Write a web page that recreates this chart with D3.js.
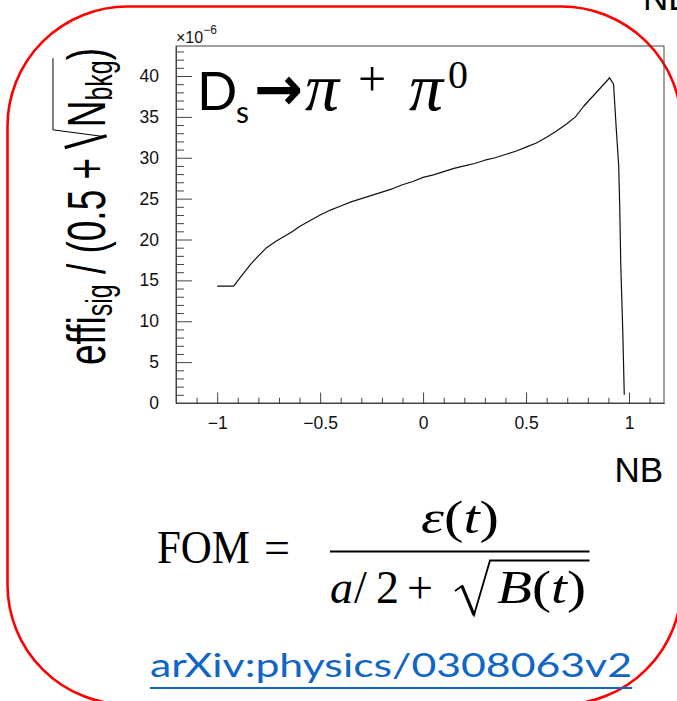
<!DOCTYPE html>
<html>
<head>
<meta charset="utf-8">
<script src="https://cdn.jsdelivr.net/npm/d3@7"></script>
<style>
  html, body { margin: 0; padding: 0; background: #fff; }
  svg { display: block; }
  text { white-space: pre; }
</style>
</head>
<body>
<svg id="chart" width="677" height="701"></svg>
<script>
// Cut on the neural-network output (NB) and the figure of merit at that cut (×1e-6)
const nbCut = [-1.00, -0.92, -0.88, -0.84, -0.80, -0.76, -0.72, -0.68, -0.64, -0.60,
               -0.55, -0.50, -0.45, -0.40, -0.35, -0.30, -0.25, -0.20, -0.15, -0.10,
               -0.05, 0.00, 0.05, 0.10, 0.15, 0.20, 0.25, 0.30, 0.35, 0.40,
               0.45, 0.50, 0.55, 0.60, 0.65, 0.70, 0.74, 0.78, 0.82, 0.86,
               0.90, 0.905, 0.925, 0.937, 0.95, 0.955, 0.96, 0.97, 0.977];
const fomValue = [14.3, 14.3, 15.6, 16.9, 18.0, 19.0, 19.7, 20.3, 20.9, 21.6,
                  22.3, 23.0, 23.6, 24.1, 24.6, 25.0, 25.4, 25.8, 26.2, 26.7,
                  27.1, 27.6, 27.9, 28.3, 28.7, 29.0, 29.3, 29.7, 30.0, 30.4,
                  30.8, 31.3, 31.8, 32.5, 33.3, 34.2, 35.0, 36.3, 37.4, 38.5,
                  39.6, 39.8, 39.0, 34.0, 29.0, 24.0, 17.0, 8.5, 1.0];

const xMajorTicks = [-1, -0.5, 0, 0.5, 1];
const xTickLabels = ["\u22121", "\u22120.5", "0", "0.5", "1"];
const xMinorTicks = [-1.1, -0.9, -0.8, -0.7, -0.6, -0.4, -0.3, -0.2, -0.1,
                     0.1, 0.2, 0.3, 0.4, 0.6, 0.7, 0.8, 0.9, 1.1];
const yMajorTicks = [0, 5, 10, 15, 20, 25, 30, 35, 40];
const yTickLabels = ["0", "5", "10", "15", "20", "25", "30", "35", "40"];
const yMinorTicks = d3.range(1, 44).filter(v => v % 5 !== 0);

const xDomain = [-1.2, 1.17];
const yDomain = [0, 43.67];

const svg = d3.select("#chart");
const frame = { left: 176, right: 664, top: 46, bottom: 403 };
const sans = "'Liberation Sans', Arial, Helvetica, sans-serif";
const serif = "'Liberation Serif', 'Times New Roman', serif";
const slideFont = "Lato, 'Open Sans', sans-serif";

const x = d3.scaleLinear().domain(xDomain).range([frame.left, frame.right]);
const y = d3.scaleLinear().domain(yDomain).range([frame.bottom, frame.top]);

// Rounded red box around the plot and formula (right and bottom sides run off the page)
svg.append("rect")
  .attr("x", 7.5).attr("y", 6.5)
  .attr("width", 674).attr("height", 698)
  .attr("rx", 120).attr("ry", 120)
  .attr("fill", "none")
  .attr("stroke", "#ff0000")
  .attr("stroke-width", 2.6);

// Neighbouring panel's axis label peeking in at the top edge
svg.append("text")
  .attr("x", 643).attr("y", 10)
  .attr("font-family", sans).attr("font-size", 35)
  .attr("fill", "#000")
  .text("NB");

// Frame
svg.append("rect")
  .attr("x", frame.left).attr("y", frame.top)
  .attr("width", frame.right - frame.left).attr("height", frame.bottom - frame.top)
  .attr("fill", "none").attr("stroke", "#444").attr("stroke-width", 1);

// X axis: major ticks with labels, minor ticks
svg.append("g")
  .attr("transform", `translate(0,${frame.bottom})`)
  .call(d3.axisBottom(x).tickValues(xMajorTicks)
        .tickFormat((d, i) => xTickLabels[i])
        .tickSize(-10.5).tickSizeOuter(0).tickPadding(14));
svg.append("g")
  .attr("transform", `translate(0,${frame.bottom})`)
  .call(d3.axisBottom(x).tickValues(xMinorTicks).tickFormat("")
        .tickSize(-5.3).tickSizeOuter(0));

// Y axis
svg.append("g")
  .attr("transform", `translate(${frame.left},0)`)
  .call(d3.axisLeft(y).tickValues(yMajorTicks)
        .tickFormat((d, i) => yTickLabels[i])
        .tickSize(-16).tickSizeOuter(0).tickPadding(17));
svg.append("g")
  .attr("transform", `translate(${frame.left},0)`)
  .call(d3.axisLeft(y).tickValues(yMinorTicks).tickFormat("")
        .tickSize(-8).tickSizeOuter(0));

svg.selectAll(".domain").attr("stroke", "#444");
svg.selectAll(".tick line").attr("stroke", "#444");
svg.selectAll(".tick text")
  .attr("font-family", sans).attr("font-size", 17.5).attr("fill", "#111");

// Exponent marker above the y axis
const expo = svg.append("text")
  .attr("x", frame.left).attr("y", 43)
  .attr("font-family", sans).attr("font-size", 16).attr("fill", "#111");
expo.append("tspan").text("\u00d710");
expo.append("tspan").attr("dy", -9).attr("font-size", 12).text("\u22126");

// FOM curve
const line = d3.line().x(d => x(d[0])).y(d => y(d[1]));
svg.append("path")
  .datum(nbCut.map((v, i) => [v, fomValue[i]]))
  .attr("d", line)
  .attr("fill", "none")
  .attr("stroke", "#111")
  .attr("stroke-width", 1.2)
  .attr("stroke-linejoin", "round");

// X axis title
svg.append("text")
  .attr("x", 663).attr("y", 482)
  .attr("text-anchor", "end")
  .attr("font-family", sans).attr("font-size", 35).attr("fill", "#000")
  .text("NB");

// Y axis title: effi_sig / (0.5 + sqrt(N_bkg)), written bottom-to-top,
// glyphs drawn taller than wide as in the ROOT canvas
const S = 37, sub = 25, subShift = 5;
const yt = svg.append("g")
  .attr("transform", "translate(105,365) rotate(-90) scale(1,1.45)")
  .attr("font-family", sans).attr("fill", "#000");
let u = 0;
function piece(txt, size, dy) {
  const t = yt.append("text").attr("x", u).attr("y", dy).attr("font-size", size).text(txt);
  const start = u;
  u += t.node().getComputedTextLength();
  return start;
}
piece("effi", S, 0);
piece("sig", sub, subShift);
piece(" / (0.5 + ", S, 0);
const r0 = u;
u += 0.55 * S;
piece("N", S, 0);
piece("bkg", sub, subShift);
const rEnd = u;
piece(")", S, 0);
yt.append("path")
  .attr("d", `M${r0},${-0.75 * S} L${r0 + 0.32 * S},${0.03 * S}`)
  .attr("stroke", "#000").attr("stroke-width", 3.2).attr("fill", "none")
  .attr("vector-effect", "non-scaling-stroke");
yt.append("path")
  .attr("d", `M${r0 + 0.3 * S},${-0.03 * S} L${r0 + 0.48 * S},${-0.97 * S} L${rEnd + 2},${-0.97 * S}`)
  .attr("stroke", "#000").attr("stroke-width", 1).attr("fill", "none")
  .attr("vector-effect", "non-scaling-stroke");

// Decay channel label: D_s -> pi+ pi0
const title = svg.append("g").attr("fill", "#000");
title.append("text").attr("x", 197).attr("y", 110)
  .attr("font-family", slideFont).attr("font-size", 53).text("D");
title.append("text").attr("x", 236).attr("y", 123)
  .attr("font-family", slideFont).attr("font-size", 30).text("s");
title.append("text").attr("x", 254).attr("y", 110)
  .attr("font-family", "'DejaVu Sans', sans-serif").attr("font-weight", "bold")
  .attr("font-size", 62).attr("textLength", 49).attr("lengthAdjust", "spacingAndGlyphs")
  .text("\u2192");
title.append("text").attr("x", 305).attr("y", 110)
  .attr("font-family", serif).attr("font-style", "italic").attr("font-size", 68).text("\u03c0");
title.append("text").attr("x", 358).attr("y", 96)
  .attr("font-family", serif).attr("font-size", 50).text("+");
title.append("text").attr("x", 409).attr("y", 110)
  .attr("font-family", serif).attr("font-style", "italic").attr("font-size", 68).text("\u03c0");
title.append("text").attr("x", 448).attr("y", 88)
  .attr("font-family", serif).attr("font-size", 40).text("0");

// Figure-of-merit definition
const fm = svg.append("g").attr("font-family", serif).attr("font-size", 46).attr("fill", "#000");
fm.append("text").attr("x", 157).attr("y", 563).attr("textLength", 93)
  .attr("lengthAdjust", "spacingAndGlyphs").text("FOM");
fm.append("text").attr("x", 277).attr("y", 563).attr("text-anchor", "middle").text("=");
fm.append("line").attr("x1", 330).attr("x2", 589.5).attr("y1", 551.5).attr("y2", 551.5)
  .attr("stroke", "#000").attr("stroke-width", 2);
const num = fm.append("text").attr("x", 421).attr("y", 533)
  .attr("textLength", 78).attr("lengthAdjust", "spacingAndGlyphs");
num.append("tspan").attr("font-style", "italic").text("\u03b5");
num.append("tspan").text("(");
num.append("tspan").attr("font-style", "italic").text("t");
num.append("tspan").text(")");
fm.append("text").attr("x", 330).attr("y", 603).attr("font-style", "italic").text("a");
fm.append("text").attr("x", 354).attr("y", 603).text("/");
fm.append("text").attr("x", 376).attr("y", 603).text("2");
fm.append("text").attr("x", 407).attr("y", 603).text("+");
fm.append("path")
  .attr("d", "M455,591 L462,586 L474,615 L490,560.5 L589.5,560.5")
  .attr("fill", "none").attr("stroke", "#000").attr("stroke-width", 1.8)
  .attr("stroke-linejoin", "miter");
fm.append("path")
  .attr("d", "M462,586 L474,615")
  .attr("fill", "none").attr("stroke", "#000").attr("stroke-width", 3.2);
const den = fm.append("text").attr("x", 497).attr("y", 603)
  .attr("textLength", 89).attr("lengthAdjust", "spacingAndGlyphs");
den.append("tspan").attr("font-style", "italic").text("B");
den.append("tspan").text("(");
den.append("tspan").attr("font-style", "italic").text("t");
den.append("tspan").text(")");

// Reference link
svg.append("text")
  .attr("x", 150).attr("y", 677)
  .attr("font-family", slideFont).attr("font-size", 33)
  .attr("textLength", 482).attr("lengthAdjust", "spacingAndGlyphs")
  .attr("fill", "#0f66c4")
  .text("arXiv:physics/0308063v2");
svg.append("line")
  .attr("x1", 150).attr("x2", 632).attr("y1", 688).attr("y2", 688)
  .attr("stroke", "#0f66c4").attr("stroke-width", 2.2);
</script>
</body>
</html>
